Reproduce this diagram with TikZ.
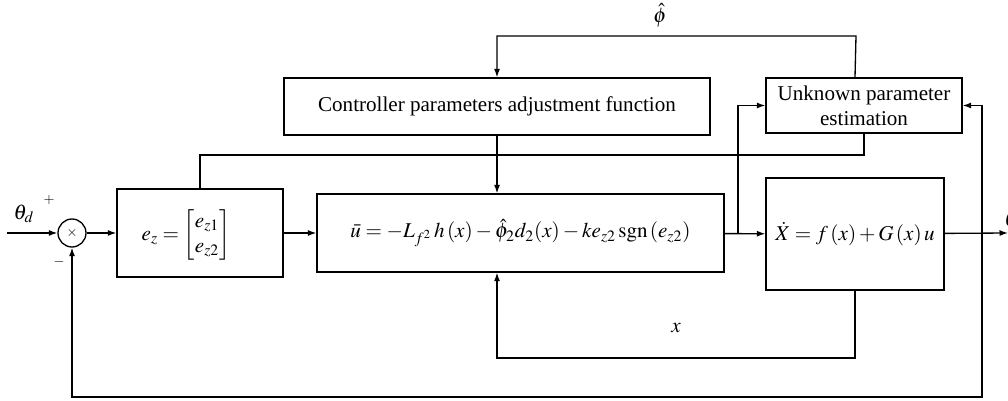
\documentclass[tikz,border=0pt]{standalone}
\usepackage{amsmath}
\usepackage{mathptmx}
\usepackage{fontspec}
\setmainfont{Liberation Serif}
\usetikzlibrary{arrows.meta,positioning}

\begin{document}
\begin{tikzpicture}[
  x=0.02cm, y=-0.02cm,
  font=\fontsize{12}{14}\selectfont,
  block/.style={draw, line width=0.75pt, inner sep=0pt, align=center},
  sumjn/.style={draw, circle, line width=0.75pt, minimum size=0.56cm, inner sep=0pt, font=\footnotesize},
  sig/.style={-{Latex[length=1.7mm,width=1.2mm]}, line width=0.75pt},
  wire/.style={line width=0.75pt}
]
\useasboundingbox (0,0) rectangle (1008,401);
\node[sumjn] (sum) at (72,233) {$\times$};
\node[block, minimum width=3.32cm, minimum height=1.76cm] (err) at (200,233) {};
\node (errtxt) at (186,235) {$e_z = \begin{bmatrix} e_{z1}\\ e_{z2} \end{bmatrix}$};
\node[block, minimum width=8.14cm, minimum height=1.56cm] (ctrlaw) at (520.5,233) {$\bar{u} = -L_{f^2}\,h\,(x) - \hat{\phi}_2 d_2(x) - k e_{z2}\,\mathrm{sgn}\,(e_{z2})$};
\node[block, minimum width=3.56cm, minimum height=2.24cm] (plant) at (855,234) {$\dot{X} = f\,(x) + G\,(x)\,u$};
\node[block, minimum width=8.52cm, minimum height=1.14cm] (ctrl) at (497,106.5) {Controller parameters adjustment function};
\node[block, minimum width=3.92cm, minimum height=1.1cm] (est) at (864,105.5) {Unknown parameter\\estimation};
\node (thd) at (24,214) {$\theta_d$};
\node[font=\footnotesize] (plus) at (49,200) {$+$};
\node[font=\footnotesize] (minus) at (59,262) {$-$};
\node (phihat) at (660,15) {$\hat{\phi}$};
\node (xlab) at (676,328) {$x$};
\node (th) at (1011,219) {$\theta$};
\coordinate (in) at (7,233);
\coordinate (tap) at (738,233);
\coordinate (fb) at (982,233);
\coordinate (out) at (1008,233);
\coordinate (phicorner) at (856,36);
\coordinate (ezlevel) at (0,155);
\coordinate (xlevel) at (0,358);
\coordinate (fbbot) at (982,397);
\draw[sig] (in) -- (sum);
\draw[sig] (sum) -- (err);
\draw[sig] (err) -- (ctrlaw);
\draw[sig] (ctrlaw) -- (plant);
\draw[sig] (plant) -- (out);
\draw[sig] (tap) |- (est.west);
\draw[sig] (fb) |- (est.east);
\draw[sig] (plant.north |- est.north) -- (phicorner) -| (ctrl.north);
\draw[sig] (ctrl.south) -- (ctrl.south |- ctrlaw.north);
\draw[wire] (est.south) -- (est.south |- ezlevel) -| (err.north);
\draw[sig] (plant.south) -- (plant.south |- xlevel) -| (ctrl.south |- ctrlaw.south);
\draw[sig] (fb) -- (fbbot) -| (sum.south);
\end{tikzpicture}
\end{document}
